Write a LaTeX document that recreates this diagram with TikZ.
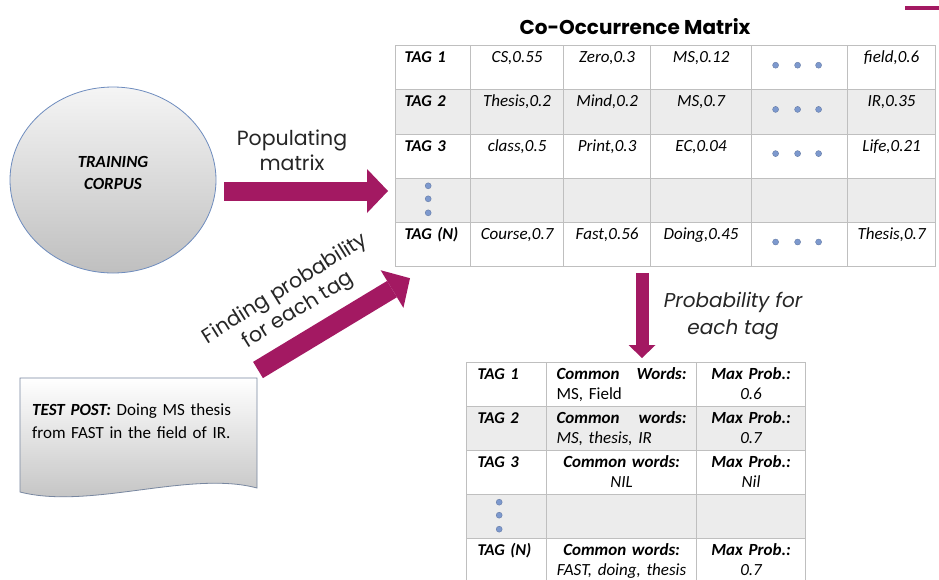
\documentclass[tikz,border=0pt]{standalone}
\usepackage{fontspec}
\setmainfont{Carlito}
\newfontfamily\gothic{Poppins}
\usetikzlibrary{matrix,arrows.meta,shapes.geometric,calc,positioning}

\definecolor{arrowcol}{RGB}{163,25,98}
\definecolor{gridcol}{RGB}{191,191,191}
\definecolor{rowgray}{RGB}{236,236,236}
\definecolor{dotcol}{RGB}{125,153,206}
\definecolor{edgeblue}{RGB}{110,140,190}
\definecolor{postedge}{RGB}{120,135,160}

\tikzset{
  bigarrow/.style={draw=arrowcol, line width=19pt,
    -{Triangle[length=21pt, width=44pt, line width=0pt]}},
  smallarrow/.style={draw=arrowcol, line width=13pt,
    -{Triangle[length=13pt, width=27pt, line width=0pt]}},
  cell/.style={draw=gridcol, line width=0.8pt, inner ysep=0pt, inner xsep=4pt,
    text height=17pt, text depth=27.2pt, align=center,
    font=\fontsize{17}{20}\selectfont\itshape},
  tagcell/.style={inner xsep=9pt, align=left,
    font=\fontsize{16.5}{20}\selectfont\bfseries\itshape},
  dot/.style={fill=dotcol, draw=dotcol!80!black, line width=0.4pt},
  gothictext/.style={font=\gothic\fontsize{20.5}{25}\selectfont, align=center, text=black!85}
}

\begin{document}
\begin{tikzpicture}[x=1pt, y=-1pt]
  \fill[white] (0,0) rectangle (939,579);
  \useasboundingbox (0,0) rectangle (939,579);

  % training corpus
  \node[ellipse, draw=edgeblue, line width=0.8pt, minimum width=206pt, minimum height=186pt,
        top color=gray!8, bottom color=gray!50,
        label={[font=\fontsize{17}{22}\selectfont\bfseries\itshape, align=center, yshift=7pt]center:{TRAINING\\CORPUS}}]
        (corpus) at (113,180) {};

  % test post
  \draw[draw=postedge, line width=0.8pt, top color=white, bottom color=gray!50]
    (20,378) -- (257,378) -- (257,488) .. controls (190,470) and (90,510) .. (20,492) -- cycle;
  \coordinate (postcorner) at (257,378);
  \node[anchor=base west, inner sep=0pt, text width=225pt, align=left,
        font=\fontsize{17}{23}\selectfont] (post) at (32,415)
        {\textbf{\textit{TEST POST:}} Doing MS thesis\\from FAST in the field of IR.};

  % co-occurrence matrix
  \node[font=\gothic\bfseries\fontsize{20}{24}\selectfont] (title) at (635,27) {Co-Occurrence Matrix};
  \matrix (cooc) [matrix of nodes, nodes in empty cells, anchor=north west, inner sep=0pt,
      column sep=-0.8pt, row sep=-0.8pt, nodes={cell},
      column 1/.style={nodes={tagcell, text width=57pt}},
      column 2/.style={nodes={text width=85pt}},
      column 3/.style={nodes={text width=79pt}},
      column 4/.style={nodes={text width=93pt}},
      column 5/.style={nodes={text width=88pt}},
      column 6/.style={nodes={text width=80pt}},
      row 2/.style={nodes={fill=rowgray}},
      row 4/.style={nodes={fill=rowgray}}] at (395,45) {
    TAG 1   & CS,0.55     & Zero,0.3  & MS,0.12    & & field,0.6  \\
    TAG 2   & Thesis,0.2  & Mind,0.2  & MS,0.7     & & IR,0.35    \\
    TAG 3   & class,0.5   & Print,0.3 & EC,0.04    & & Life,0.21  \\
            &             &           &            & &            \\
    TAG (N) & Course,0.7  & Fast,0.56 & Doing,0.45 & & Thesis,0.7 \\
  };
  \foreach \r in {1,2,3,5}
    \foreach \dx in {-22,0,21}
      \filldraw[dot] ([shift={(\dx-2,20)}]cooc-\r-5.north) circle (3pt);
  \foreach \dy in {8,21,35}
    \filldraw[dot] ([shift={(33,\dy)}]cooc-4-1.north west) circle (3pt);

  % probability table
  \matrix (probs) [matrix of nodes, nodes in empty cells, anchor=north west, inner sep=0pt,
      column sep=-0.8pt, row sep=-0.8pt, nodes={cell, text depth=27pt},
      column 1/.style={nodes={tagcell, inner xsep=11pt, text width=58pt}},
      column 2/.style={nodes={inner xsep=10pt, text width=130pt}},
      column 3/.style={nodes={inner xsep=6pt, text width=97pt}},
      row 2/.style={nodes={fill=rowgray}},
      row 4/.style={nodes={fill=rowgray}}] at (466,362) {
    TAG 1   & {\textbf{Common\hfill Words:}\\\upshape MS, Field\hspace*{\fill}} & {\textbf{Max Prob.:}\\0.6} \\
    TAG 2   & {\textbf{Common\hfill words:}\\MS, thesis, IR\hspace*{\fill}}      & {\textbf{Max Prob.:}\\0.7} \\
    TAG 3   & {\textbf{Common words:}\\NIL}                                      & {\textbf{Max Prob.:}\\Nil} \\
            &                                                                    &                            \\
    TAG (N) & {\textbf{Common words:}\\FAST, doing, thesis}                      & {\textbf{Max Prob.:}\\0.7} \\
  };
  \foreach \dy in {8,21,35}
    \filldraw[dot] ([shift={(33,\dy)}]probs-4-1.north west) circle (3pt);

  % arrows and their labels
  \draw[bigarrow, shorten <=8pt, shorten >=7pt] (corpus.east |- 0,191) -- (cooc.west |- 0,191);
  \draw[bigarrow] ([shift={(1,-8)}]postcorner) -- ([shift={(15,11)}]cooc.south west);
  \draw[smallarrow, shorten <=6pt, shorten >=4pt] (cooc.south -| 642,0) -- (probs.north -| 642,0);
  \node[gothictext] (poplbl) at (292,150) {Populating\\matrix};
  \node[gothictext, rotate=32] (findlbl) at (292,300) {Finding probability\\for each tag};
  \node[gothictext, font=\gothic\itshape\fontsize{20}{27}\selectfont] (problbl) at (733,316) {Probability for\\each tag};

  \fill[arrowcol] (905,6) rectangle (939,10);
\end{tikzpicture}
\end{document}
